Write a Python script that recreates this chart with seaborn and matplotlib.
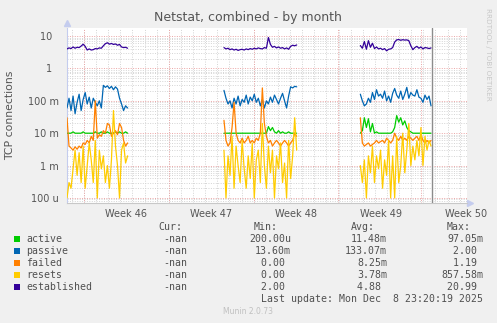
import numpy as np
import pandas as pd
import matplotlib
matplotlib.use("Agg")
import matplotlib.pyplot as plt
from matplotlib.patches import Rectangle
from matplotlib.ticker import FixedLocator, NullFormatter
import seaborn as sns

# ---------------- data (days since graph start, 4-hour steps) ----------------
series_names = ["active", "passive", "failed", "resets", "established"]
series_colors = ["#00CC00", "#0066B3", "#FF8000", "#FFCC00", "#330099"]

segment_starts = [0.0, 12.95, 24.2]
step_days = 1.0 / 6.0

active_seg1 = [0.010, 0.010, 0.010, 0.011, 0.010, 0.010, 0.010, 0.010, 0.011, 0.010, 0.010,
               0.010, 0.010, 0.010, 0.011, 0.010, 0.010, 0.011, 0.010, 0.010, 0.011, 0.010,
               0.010, 0.010, 0.011, 0.010, 0.011, 0.010, 0.010, 0.011, 0.010]
active_seg2 = [0.010, 0.010, 0.010, 0.010, 0.010, 0.010, 0.010, 0.010, 0.010, 0.010, 0.010,
               0.010, 0.010, 0.010, 0.010, 0.010, 0.010, 0.010, 0.010, 0.010, 0.010, 0.010,
               0.016, 0.012, 0.015, 0.011, 0.010, 0.012, 0.010, 0.011, 0.010, 0.010, 0.011,
               0.010, 0.010, 0.010, 0.010]
active_seg3 = [0.010, 0.012, 0.030, 0.015, 0.028, 0.011, 0.020, 0.010, 0.011, 0.010, 0.010,
               0.010, 0.010, 0.010, 0.010, 0.010, 0.011, 0.015, 0.035, 0.022, 0.030, 0.018,
               0.024, 0.015, 0.012, 0.011, 0.010, 0.010, 0.010, 0.010, 0.010, 0.010, 0.010,
               0.010, 0.010, 0.010]

passive_seg1 = [0.06, 0.12, 0.05, 0.14, 0.04, 0.09, 0.16, 0.05, 0.11, 0.18, 0.08, 0.13, 0.06,
                0.12, 0.09, 0.07, 0.10, 0.06, 0.30, 0.26, 0.29, 0.24, 0.28, 0.22, 0.27, 0.23,
                0.12, 0.08, 0.05, 0.07, 0.06]
passive_seg2 = [0.21, 0.12, 0.08, 0.10, 0.06, 0.12, 0.08, 0.14, 0.07, 0.11, 0.09, 0.15, 0.08,
                0.13, 0.10, 0.16, 0.09, 0.12, 0.07, 0.11, 0.06, 0.10, 0.08, 0.13, 0.09, 0.15,
                0.11, 0.08, 0.12, 0.17, 0.10, 0.06, 0.14, 0.27, 0.25, 0.28, 0.27]
passive_seg3 = [0.16, 0.10, 0.07, 0.08, 0.12, 0.09, 0.18, 0.11, 0.22, 0.14, 0.16, 0.12, 0.20,
                0.10, 0.14, 0.09, 0.17, 0.24, 0.15, 0.12, 0.20, 0.11, 0.16, 0.26, 0.12, 0.18,
                0.15, 0.14, 0.22, 0.13, 0.12, 0.09, 0.15, 0.11, 0.14, 0.07]

failed_seg1 = [0.03, 0.004, 0.0035, 0.003, 0.0038, 0.0032, 0.004, 0.0035, 0.005, 0.0045, 0.006,
               0.005, 0.008, 0.006, 0.1, 0.007, 0.009, 0.008, 0.012, 0.01, 0.02, 0.018, 0.008,
               0.01, 0.012, 0.009, 0.02, 0.015, 0.006, 0.004, 0.005]
failed_seg2 = [0.025, 0.006, 0.004, 0.005, 0.015, 0.09, 0.01, 0.006, 0.005, 0.007, 0.005, 0.006,
               0.008, 0.005, 0.006, 0.005, 0.007, 0.006, 0.01, 0.25, 0.02, 0.008, 0.005, 0.006,
               0.004, 0.005, 0.006, 0.005, 0.004, 0.005, 0.006, 0.005, 0.004, 0.005, 0.006,
               0.01, 0.008]
failed_seg3 = [0.03, 0.005, 0.004, 0.0045, 0.005, 0.004, 0.0045, 0.005, 0.006, 0.005, 0.0055,
               0.006, 0.005, 0.007, 0.006, 0.005, 0.006, 0.01, 0.007, 0.006, 0.008, 0.006, 0.007,
               0.006, 0.008, 0.007, 0.006, 0.007, 0.008, 0.006, 0.009, 0.006, 0.005, 0.006,
               0.005, 0.006]

resets_seg1 = [0.0001, 0.0003, 0.0002, 0.0008, 0.003, 0.0005, 0.0025, 0.0003, 0.004, 0.0002,
               0.001, 0.005, 0.0015, 0.0003, 0.006, 0.0001, 0.003, 0.0008, 0.002, 0.0003, 0.001,
               0.0002, 0.0015, 0.05, 0.004, 0.001, 0.0001, 0.003, 0.005, 0.0012, 0.002]
resets_seg2 = [0.003, 0.0001, 0.002, 0.0005, 0.008, 0.0002, 0.004, 0.001, 0.0003, 0.006, 0.0008,
               0.0002, 0.002, 0.0004, 0.005, 0.0001, 0.0015, 0.003, 0.0003, 0.02, 0.001, 0.0002,
               0.004, 0.0006, 0.003, 0.0001, 0.002, 0.0008, 0.005, 0.0003, 0.0012, 0.0001,
               0.006, 0.0004, 0.002, 0.03, 0.003]
resets_seg3 = [0.001, 0.0003, 0.0015, 0.0001, 0.002, 0.0006, 0.004, 0.0003, 0.002, 0.0008,
               0.003, 0.0002, 0.0015, 0.0005, 0.006, 0.0001, 0.002, 0.0001, 0.008, 0.0003, 0.001,
               0.01, 0.0006, 0.003, 0.02, 0.001, 0.004, 0.0015, 0.006, 0.002, 0.015, 0.001,
               0.008, 0.003, 0.006, 0.004]

established_seg1 = [4.0, 4.3, 4.1, 4.6, 4.2, 4.5, 4.4, 4.9, 5.6, 4.8, 3.7, 4.0, 3.7, 3.8, 4.1,
                    4.0, 4.3, 4.2, 5.0, 5.8, 6.2, 5.6, 5.9, 5.5, 5.7, 5.2, 5.5, 4.6, 4.4, 4.5, 4.2]
established_seg2 = [4.4, 4.0, 4.2, 3.8, 4.0, 3.7, 3.9, 3.6, 3.8, 3.9, 3.7, 4.0, 3.8, 4.1, 3.9,
                    4.2, 4.0, 4.3, 4.1, 4.0, 4.4, 4.2, 9.0, 5.5, 4.5, 4.8, 4.3, 4.6, 4.2, 4.4,
                    4.0, 4.3, 3.9, 4.8, 5.2, 5.0, 5.3]
established_seg3 = [5.1, 4.2, 6.8, 3.9, 7.2, 4.5, 6.0, 4.1, 4.6, 4.0, 4.2, 3.8, 4.1, 3.5, 3.9,
                    4.0, 4.4, 6.5, 7.6, 7.8, 7.4, 7.7, 7.5, 7.6, 7.2, 5.0, 3.8, 4.4, 4.8, 4.2,
                    4.6, 4.0, 4.4, 4.3, 4.1, 4.3]

week_label_days = [4.9, 11.9, 18.9, 25.9, 32.9]
week_labels = ["Week 46", "Week 47", "Week 48", "Week 49", "Week 50"]
week_major_days = [1.4, 8.4, 15.4, 22.35, 29.2]
now_day = 30.1

ytick_vals = [1e-4, 1e-3, 1e-2, 1e-1, 1, 10]
ytick_labels = ["100 u", "1 m", "10 m", "100 m", "1  ", "10  "]

legend_cur = ["-nan", "-nan", "-nan", "-nan", "-nan"]
legend_min = ["200.00u", "13.60m", "0.00 ", "0.00 ", "2.00 "]
legend_avg = ["11.48m", "133.07m", "8.25m", "3.78m", "4.88 "]
legend_max = ["97.05m", "2.00 ", "1.19 ", "857.58m", "20.99 "]

# ---------------- build long table ----------------
segs = {
    "active": [active_seg1, active_seg2, active_seg3],
    "passive": [passive_seg1, passive_seg2, passive_seg3],
    "failed": [failed_seg1, failed_seg2, failed_seg3],
    "resets": [resets_seg1, resets_seg2, resets_seg3],
    "established": [established_seg1, established_seg2, established_seg3],
}
rows = []
for name in series_names:
    for si, (start, vals) in enumerate(zip(segment_starts, segs[name])):
        for i, v in enumerate(vals):
            rows.append({"series": name, "segment": si, "day": start + i * step_days, "value": v})
df = pd.DataFrame(rows)

# ---------------- figure ----------------
sns.set_theme(style="white")
plt.rcParams['font.family'] = ['DejaVu Sans']

W, H = 497, 323
fig = plt.figure(figsize=(W / 100, H / 100), dpi=100, facecolor="#F0F0F0")
ax = fig.add_axes([67 / W, 1 - 203 / H, 400 / W, 175 / H])
ax.set_facecolor("white")

for name, col in zip(series_names, series_colors):
    sub = df[df["series"] == name]
    sns.lineplot(data=sub, x="day", y="value", units="segment", estimator=None,
                 sort=False, color=col, linewidth=0.9, ax=ax, legend=False, zorder=3)

ax.set_yscale("log")
ax.set_xlim(0, 33)
ax.set_ylim(7.0e-5, 17.7)

# grid
minor_y = [m * 10.0 ** e for e in range(-5, 2) for m in range(2, 10)]
ax.yaxis.set_major_locator(FixedLocator(ytick_vals))
ax.yaxis.set_minor_locator(FixedLocator(minor_y))
ax.yaxis.set_minor_formatter(NullFormatter())
ax.set_yticklabels(ytick_labels)
ax.xaxis.set_major_locator(FixedLocator(week_label_days))
ax.set_xticklabels(week_labels)
ax.xaxis.set_minor_locator(FixedLocator([0.4 + k for k in range(33)]))

dot = (0, (1, 1.5))
ax.grid(which="minor", axis="both", color="#D4D4D4", linestyle=dot, linewidth=0.7, zorder=1)
ax.grid(which="major", axis="y", color="#EBA5A5", linestyle=dot, linewidth=0.7, zorder=1)
ax.grid(which="major", axis="x", visible=False)
for d in week_major_days:
    ax.axvline(d, color="#EBA5A5", linestyle=dot, linewidth=0.7, zorder=1)
ax.axvline(now_day, color="#8C8C8C", linewidth=1.0, zorder=4)
ax.set_axisbelow(True)

ax.tick_params(axis="both", which="both", length=0, colors="#555555", labelsize=7)
ax.tick_params(axis="y", pad=6)
ax.tick_params(axis="x", pad=4)
ax.set_xlabel("")
ax.set_ylabel("")

for s in ["top", "right"]:
    ax.spines[s].set_visible(False)
ax.spines["left"].set_color("#C4CCEE")
ax.spines["bottom"].set_color("#C8C8C8")
ax.spines["left"].set_linewidth(0.8)
ax.spines["bottom"].set_linewidth(0.8)
ax.plot([0], [1.03], marker="^", color="#C4CCEE", markersize=4, transform=ax.transAxes, clip_on=False)
ax.plot([1.008], [0], marker=">", color="#C4CCEE", markersize=4, transform=ax.transAxes, clip_on=False)

# texts
fig.text(248 / W, 1 - 18 / H, "Netstat, combined - by month", ha="center", va="center",
         fontsize=9, color="#555555")
fig.text(10.5 / W, 1 - 115 / H, "TCP connections", rotation=90, ha="center", va="center",
         fontsize=7.8, color="#555555")
fig.text(488 / W, 1 - 54 / H, "RRDTOOL / TOBI OETIKER", rotation=270, ha="center", va="center",
         fontsize=5.2, color="#C8C8C8")

mono = dict(family="DejaVu Sans Mono", fontsize=7.1, color="#505050", va="center")
def fy(y):
    return 1 - y / H

for x, t in zip([158, 254, 351, 447], ["Cur:", "Min:", "Avg:", "Max:"]):
    fig.text(x / W, fy(227), t, ha="left", **mono)

row_y = [239, 251, 263, 275, 287]
for i, name in enumerate(series_names):
    y = row_y[i]
    fig.patches.append(Rectangle((14 / W, fy(y + 3)), 6 / W, 6 / H, transform=fig.transFigure,
                                 facecolor=series_colors[i], edgecolor="none"))
    fig.text(26 / W, fy(y), name, ha="left", **mono)
    fig.text(187 / W, fy(y), legend_cur[i], ha="right", **mono)
    fig.text(291 / W, fy(y), legend_min[i], ha="right", **mono)
    fig.text(387 / W, fy(y), legend_avg[i], ha="right", **mono)
    fig.text(483 / W, fy(y), legend_max[i], ha="right", **mono)

fig.text(483 / W, fy(299), "Last update: Mon Dec  8 23:20:19 2025", ha="right", **mono)
fig.text(248 / W, fy(312), "Munin 2.0.73", ha="center", va="center", fontsize=5.5, color="#C0C0C0")

fig.savefig("out.png", dpi=100, facecolor=fig.get_facecolor())
